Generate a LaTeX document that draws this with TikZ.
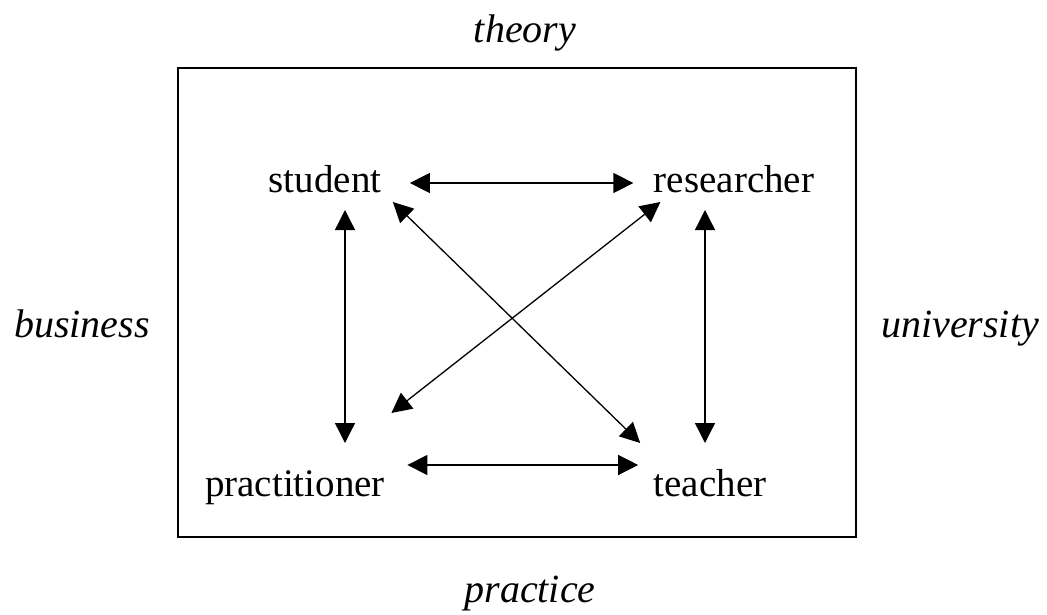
\documentclass[tikz,border=0pt]{standalone}
\usepackage{fontspec}
\setmainfont{Liberation Serif}
\usetikzlibrary{arrows.meta}

\begin{document}
\begin{tikzpicture}[x=1pt,y=-1pt,>={Triangle[length=20pt,width=20pt]}]
\tikzset{
  role/.style={anchor=base,font=\fontsize{39}{46}\selectfont},
  side/.style={anchor=base,font=\fontsize{40}{48}\selectfont\itshape},
  dbl/.style={<->,line width=1.3pt}
}
\useasboundingbox (0,0) rectangle (1047,615);
\draw[line width=1.5pt] (178,68) rectangle (856,537);
% the four roles
\node[role] (student) at (325,192) {student};
\node[role] (researcher) at (734,192) {researcher};
\node[role] (practitioner) at (295,496) {practitioner};
\node[role] (teacher) at (710,496) {teacher};
% the four sides
\node[side] (theory) at (525,43) {theory};
\node[side] (practice) at (530,602) {practice};
\node[side] (business) at (82,337) {business};
\node[side] (university) at (960,337) {university};
% arrows
\draw[dbl] ([xshift=25pt,yshift=9pt]student.base east) -- ([xshift=-17pt,yshift=9pt]researcher.base west);
\draw[dbl] ([xshift=19pt,yshift=31pt]practitioner.base east) -- ([xshift=-12pt,yshift=31pt]teacher.base west);
\draw[dbl] ([xshift=20pt,yshift=-18pt]student.base) -- ([xshift=50pt,yshift=53pt]practitioner.base);
\draw[dbl] ([xshift=-29pt,yshift=-18pt]researcher.base) -- ([xshift=-5pt,yshift=53pt]teacher.base);
\draw[dbl] ([xshift=8pt,yshift=-10pt]student.base east) -- ([xshift=-10pt,yshift=53pt]teacher.base west);
\draw[dbl] ([xshift=10pt,yshift=-10pt]researcher.base west) -- ([xshift=3pt,yshift=83pt]practitioner.base east);
\end{tikzpicture}
\end{document}
